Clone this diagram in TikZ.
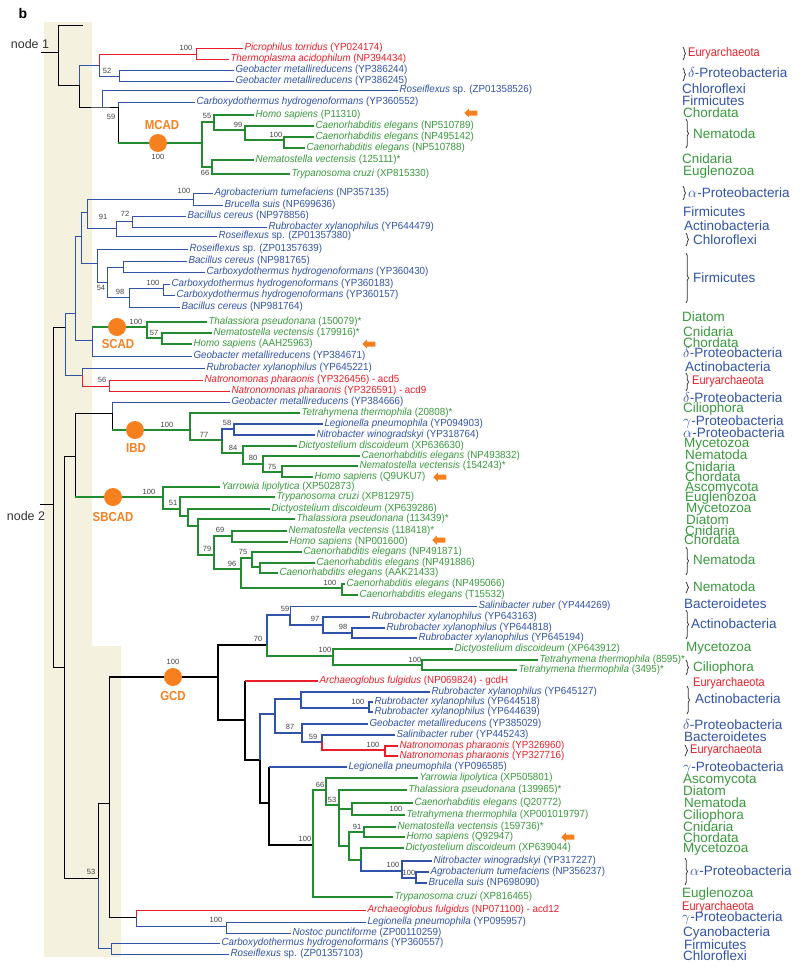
\documentclass[tikz,border=0pt]{standalone}
\usepackage{fontspec}
\setmainfont{Liberation Sans}
\newfontfamily\leaffont[FakeStretch=0.95]{Liberation Sans}
\newfontfamily\grpfont[FakeStretch=0.88]{Liberation Sans}
\usetikzlibrary{shapes.arrows, decorations.pathreplacing}

\definecolor{tblue}{RGB}{48,82,170}
\definecolor{tgreen}{RGB}{36,140,48}
\definecolor{lgreen}{RGB}{56,152,60}
\definecolor{tred}{RGB}{234,30,40}
\definecolor{torange}{RGB}{246,128,30}
\definecolor{bandbeige}{RGB}{244,242,222}

\begin{document}
\begin{tikzpicture}[x=1pt, y=-1pt,
  br/.style={line width=0.7pt},
  thk/.style={line width=1.7pt},
  lf/.style={anchor=west, inner sep=1.3pt, font=\leaffont\fontsize{10.3}{11}\selectfont},
  lfb/.style={lf, text=tblue},
  lfg/.style={lf, text=lgreen},
  lfr/.style={lf, text=tred},
  bs/.style={inner sep=0pt, text=black!75, font=\fontsize{7.5}{8}\selectfont},
  grp/.style={anchor=west, inner sep=0pt, font=\fontsize{13.5}{13.5}\selectfont},
  grpb/.style={grp, text=tblue},
  grpg/.style={grp, text=lgreen},
  arc/.style={anchor=west, inner sep=0pt, text=tred, font=\grpfont\fontsize{12.5}{13}\selectfont},
  brc/.style={decorate, decoration={brace, amplitude=2.5pt}, line width=0.8pt, black!80},
  enzdot/.style={circle, fill=torange, minimum size=18pt, inner sep=0pt},
  enz/.style={text=torange, font=\grpfont\bfseries\fontsize{13}{13}\selectfont, inner sep=0pt},
  pointer/.style={single arrow, fill=torange, shape border rotate=180, minimum height=13pt, inner sep=2.3pt, single arrow head extend=2pt},
  rootlbl/.style={text=black!80, font=\fontsize{12.5}{13}\selectfont, inner sep=0pt}
]
  \useasboundingbox (0,0) rectangle (800,969);
  % shaded band behind the roots
  \fill[bandbeige] (44,22) -- (92,22) -- (92,646) -- (121,646) -- (121,957) -- (44,957) -- cycle;

  \node[font=\bfseries\fontsize{14}{14}\selectfont, inner sep=0pt] (panel) at (23,13) {b};
  \node[rootlbl] (n1lbl) at (30,44) {node 1};
  \node[rootlbl] (n2lbl) at (26,516) {node 2};

  % ---------- node 1 clade
  \coordinate (r1s) at (41,52);
  \coordinate (r1) at (58,52);
  \coordinate (r1t) at (83,25);
  \coordinate (A0) at (79,85);
  \coordinate (A1) at (99,65);
  \coordinate (A2) at (102,107);
  \coordinate (A3) at (118,107);
  \coordinate (A4) at (196,54);
  \coordinate (A5) at (119,76);
  \coordinate (M0) at (202,143);
  \coordinate (M1) at (214,122);
  \coordinate (M2) at (245,130);
  \coordinate (M3) at (284,140);
  \coordinate (M4) at (212,167);

  \node[lfr] (picro) at (243,48) {\textit{Picrophilus torridus} (YP024174)};
  \node[lfr] (thermo) at (229,59) {\textit{Thermoplasma acidophilum} (NP394434)};
  \node[lfb] (geo1) at (234,70) {\textit{Geobacter metallireducens} (YP386244)};
  \node[lfb] (geo2) at (234,81) {\textit{Geobacter metallireducens} (YP386245)};
  \node[lfb] (rose1) at (398,90) {\textit{Roseiflexus} sp. (ZP01358526)};
  \node[lfb] (carb1) at (195,102) {\textit{Carboxydothermus hydrogenoformans} (YP360552)};
  \node[lfg] (homo1) at (254,115) {\textit{Homo sapiens} (P11310)};
  \node[lfg] (cel1) at (314,126) {\textit{Caenorhabditis elegans} (NP510789)};
  \node[lfg] (cel2) at (314,137) {\textit{Caenorhabditis elegans} (NP495142)};
  \node[lfg] (cel3) at (305,148) {\textit{Caenorhabditis elegans} (NP510788)};
  \node[lfg] (nem1) at (254,160) {\textit{Nematostella vectensis} (125111)*};
  \node[lfg] (try1) at (290,174) {\textit{Trypanosoma cruzi} (XP815330)};

  \draw[br] (r1s) -- (r1);
  \draw[br] (r1) |- (r1t);
  \draw[br] (r1) |- (A0);
  \draw[br] (A0) |- (A2) -- (A3);
  \draw[br, tblue] (A0) |- (A1);
  \draw[br, tred] (A1) |- (A4);
  \draw[br, tblue] (A1) |- (A5);
  \draw[br, tred] (A4) |- (picro.west);
  \draw[br, tred] (A4) |- (thermo.west);
  \draw[br, tblue] (A5) |- (geo1.west);
  \draw[br, tblue] (A5) |- (geo2.west);
  \draw[br, tblue] (A2) |- (rose1.west);
  \draw[br, tblue] (A3) |- (carb1.west);
  \draw[br] (A3) -- (A3 |- M0);
  \draw[thk, tgreen] (A3 |- M0) -- (M0);
  \draw[thk, tgreen] (M0) |- (M1);
  \draw[thk, tgreen] (M0) |- (M4);
  \draw[thk, tgreen] (M1) |- (homo1.west);
  \draw[thk, tgreen] (M1) |- (M2);
  \draw[thk, tgreen] (M2) |- (cel1.west);
  \draw[thk, tgreen] (M2) |- (M3);
  \draw[thk, tgreen] (M3) |- (cel2.west);
  \draw[thk, tgreen] (M3) |- (cel3.west);
  \draw[thk, tgreen] (M4) |- (nem1.west);
  \draw[thk, tgreen] (M4) |- (try1.west);

  \node[bs] (v1) at (186,48) {100};
  \node[bs] (v2) at (107,71) {52};
  \node[bs] (v3) at (111,117) {59};
  \node[bs] (v4) at (207,116) {55};
  \node[bs] (v5) at (238,125) {99};
  \node[bs] (v6) at (276,135) {100};
  \node[bs] (v7) at (205,173) {66};
  \node[bs] (v8) at (158,157) {100};

  % ---------- node 2: upper blue clades
  \coordinate (r2s) at (40,504);
  \coordinate (r2) at (53,504);
  \coordinate (B0) at (65,327);
  \coordinate (B1) at (75,313);
  \coordinate (B2) at (81,236);
  \coordinate (B3) at (87,212);
  \coordinate (B4) at (193,199);
  \coordinate (B5) at (116,228);
  \coordinate (B6) at (132,221);
  \coordinate (B7) at (97,263);
  \coordinate (B8) at (107,282);
  \coordinate (B9) at (123,267);
  \coordinate (B10) at (129,297);
  \coordinate (B11) at (163,288);
  \coordinate (C0) at (92,340);
  \coordinate (C1) at (147,327);
  \coordinate (C2) at (162,338);
  \coordinate (D0) at (82,375);
  \coordinate (D1) at (109,386);

  \node[lfb] (agro1) at (213,193) {\textit{Agrobacterium tumefaciens} (NP357135)};
  \node[lfb] (bru1) at (223,205) {\textit{Brucella suis} (NP699636)};
  \node[lfb] (bac1) at (186,216) {\textit{Bacillus cereus} (NP978856)};
  \node[lfb] (rub1) at (267,227) {\textit{Rubrobacter xylanophilus} (YP644479)};
  \node[lfb] (rose2) at (217,236) {\textit{Roseiflexus} sp. (ZP01357380)};
  \node[lfb] (rose3) at (188,249) {\textit{Roseiflexus} sp. (ZP01357639)};
  \node[lfb] (bac2) at (187,261) {\textit{Bacillus cereus} (NP981765)};
  \node[lfb] (carb2) at (205,272) {\textit{Carboxydothermus hydrogenoformans} (YP360430)};
  \node[lfb] (carb3) at (170,284) {\textit{Carboxydothermus hydrogenoformans} (YP360183)};
  \node[lfb] (carb4) at (175,295) {\textit{Carboxydothermus hydrogenoformans} (YP360157)};
  \node[lfb] (bac3) at (180,307) {\textit{Bacillus cereus} (NP981764)};
  \node[lfg] (thal1) at (207,322) {\textit{Thalassiora pseudonana} (150079)*};
  \node[lfg] (nem2) at (212,333) {\textit{Nematostella vectensis} (179916)*};
  \node[lfg] (homo2) at (192,344) {\textit{Homo sapiens} (AAH25963)};
  \node[lfb] (geo3) at (192,356) {\textit{Geobacter metallireducens} (YP384671)};
  \node[lfb] (rub2) at (205,368) {\textit{Rubrobacter xylanophilus} (YP645221)};
  \node[lfr] (nat1) at (203,380) {\textit{Natronomonas pharaonis} (YP326456) - acd5};
  \node[lfr] (nat2) at (230,391) {\textit{Natronomonas pharaonis} (YP326591) - acd9};

  \draw[br] (r2s) -- (r2);
  \draw[br] (r2) |- (B0);
  \draw[br, tblue] (B0) |- (B1);
  \draw[br, tblue] (B0) |- (D0);
  \draw[br, tblue] (B1) |- (B2);
  \draw[br, tblue] (B1) |- (C0);
  \draw[br, tblue] (B2) |- (B3);
  \draw[br, tblue] (B2) |- (B7);
  \draw[br, tblue] (B3) |- (B4);
  \draw[br, tblue] (B3) |- (B5);
  \draw[br, tblue] (B4) |- (agro1.west);
  \draw[br, tblue] (B4) |- (bru1.west);
  \draw[br, tblue] (B5) |- (B6);
  \draw[br, tblue] (B5) |- (rose2.west);
  \draw[br, tblue] (B6) |- (bac1.west);
  \draw[br, tblue] (B6) |- (rub1.west);
  \draw[br, tblue] (B7) |- (rose3.west);
  \draw[br, tblue] (B7) |- (B8);
  \draw[br, tblue] (B8) |- (B9);
  \draw[br, tblue] (B8) |- (B10);
  \draw[br, tblue] (B9) |- (bac2.west);
  \draw[br, tblue] (B9) |- (carb2.west);
  \draw[br, tblue] (B10) |- (B11);
  \draw[br, tblue] (B10) |- (bac3.west);
  \draw[br, tblue] (B11) |- (carb3.west);
  \draw[br, tblue] (B11) |- (carb4.west);
  \draw[br, tblue] (C0) -- (C0 |- C1);
  \draw[thk, tgreen] (C0 |- C1) -- (C1);
  \draw[br, tblue] (C0) |- (geo3.west);
  \draw[thk, tgreen] (C1) |- (thal1.west);
  \draw[thk, tgreen] (C1) |- (C2);
  \draw[thk, tgreen] (C2) |- (nem2.west);
  \draw[thk, tgreen] (C2) |- (homo2.west);
  \draw[br, tblue] (D0) |- (rub2.west);
  \draw[br, tred] (D0) |- (D1);
  \draw[br, tred] (D1) |- (nat1.west);
  \draw[br, tred] (D1) |- (nat2.west);

  \node[bs] (v9) at (184,191) {100};
  \node[bs] (v10) at (103,217) {91};
  \node[bs] (v11) at (125,214) {72};
  \node[bs] (v12) at (101,288) {54};
  \node[bs] (v13) at (153,283) {100};
  \node[bs] (v14) at (120,292) {98};
  \node[bs] (v15) at (136,322) {100};
  \node[bs] (v16) at (154,333) {57};
  \node[bs] (v17) at (102,380) {56};

  % ---------- IBD and SBCAD
  \coordinate (E0) at (64,667);
  \coordinate (E1) at (75,456);
  \coordinate (E5) at (98,878);
  \coordinate (F0) at (112,413);
  \coordinate (I0) at (190,430);
  \coordinate (I1) at (222,440);
  \coordinate (I2) at (234,429);
  \coordinate (I3) at (243,453);
  \coordinate (I4) at (263,464);
  \coordinate (I5) at (282,472);
  \coordinate (S0) at (163,497);
  \coordinate (S1) at (180,509);
  \coordinate (S2) at (188,516);
  \coordinate (S3) at (198,526);
  \coordinate (S4) at (214,555);
  \coordinate (S5) at (232,536);
  \coordinate (S6) at (241,569);
  \coordinate (S7) at (252,558);
  \coordinate (S8) at (260,567);
  \coordinate (S9) at (342,588);

  \node[lfb] (geo4) at (230,402) {\textit{Geobacter metallireducens} (YP384666)};
  \node[lfg] (tet1) at (300,413) {\textit{Tetrahymena thermophila} (20808)*};
  \node[lfb] (leg1) at (323,424) {\textit{Legionella pneumophila} (YP094903)};
  \node[lfb] (nit1) at (315,435) {\textit{Nitrobacter winogradskyi} (YP318764)};
  \node[lfg] (dic1) at (297,446) {\textit{Dictyostelium discoideum} (XP636630)};
  \node[lfg] (cel4) at (360,456) {\textit{Caenorhabditis elegans} (NP493832)};
  \node[lfg] (nem3) at (358,466) {\textit{Nematostella vectensis} (154243)*};
  \node[lfg] (homo3) at (313,477) {\textit{Homo sapiens} (Q9UKU7)};
  \node[lfg] (yar1) at (220,487) {\textit{Yarrowia lipolytica} (XP502873)};
  \node[lfg] (try2) at (275,497) {\textit{Trypanosoma cruzi} (XP812975)};
  \node[lfg] (dic2) at (270,509) {\textit{Dictyostelium discoideum} (XP639286)};
  \node[lfg] (thal2) at (295,519) {\textit{Thalassiora pseudonana} (113439)*};
  \node[lfg] (nem4) at (287,531) {\textit{Nematostella vectensis} (118418)*};
  \node[lfg] (homo4) at (288,542) {\textit{Homo sapiens} (NP001600)};
  \node[lfg] (cel5) at (302,552) {\textit{Caenorhabditis elegans} (NP491871)};
  \node[lfg] (cel6) at (315,563) {\textit{Caenorhabditis elegans} (NP491886)};
  \node[lfg] (cel7) at (278,573) {\textit{Caenorhabditis elegans} (AAK21433)};
  \node[lfg] (cel8) at (345,584) {\textit{Caenorhabditis elegans} (NP495066)};
  \node[lfg] (cel9) at (358,595) {\textit{Caenorhabditis elegans} (T15532)};

  \draw[br] (r2) |- (E0);
  \draw[br] (E0) |- (E1);
  \draw[br] (E0) |- (E5);
  \draw[br] (E1) |- (F0);
  \draw[br] (E1) -- (E1 |- S0);
  \draw[thk, tgreen] (E1 |- S0) -- (S0);
  \draw[br, tblue] (F0) |- (geo4.west);
  \draw[br] (F0) -- (F0 |- I0);
  \draw[thk, tgreen] (F0 |- I0) -- (I0);
  \draw[thk, tgreen] (I0) |- (tet1.west);
  \draw[thk, tgreen] (I0) |- (I1);
  \draw[thk, tblue] (I1) |- (I2);
  \draw[thk, tgreen] (I1) |- (I3);
  \draw[thk, tblue] (I2) |- (leg1.west);
  \draw[thk, tblue] (I2) |- (nit1.west);
  \draw[thk, tgreen] (I3) |- (dic1.west);
  \draw[thk, tgreen] (I3) |- (I4);
  \draw[thk, tgreen] (I4) |- (cel4.west);
  \draw[thk, tgreen] (I4) |- (I5);
  \draw[thk, tgreen] (I5) |- (nem3.west);
  \draw[thk, tgreen] (I5) |- (homo3.west);
  \draw[thk, tgreen] (S0) |- (yar1.west);
  \draw[thk, tgreen] (S0) |- (S1);
  \draw[thk, tgreen] (S1) |- (try2.west);
  \draw[thk, tgreen] (S1) |- (S2);
  \draw[thk, tgreen] (S2) |- (dic2.west);
  \draw[thk, tgreen] (S2) |- (S3);
  \draw[thk, tgreen] (S3) |- (thal2.west);
  \draw[thk, tgreen] (S3) |- (S4);
  \draw[thk, tgreen] (S4) |- (S5);
  \draw[thk, tgreen] (S4) |- (S6);
  \draw[thk, tgreen] (S5) |- (nem4.west);
  \draw[thk, tgreen] (S5) |- (homo4.west);
  \draw[thk, tgreen] (S6) |- (S7);
  \draw[thk, tgreen] (S6) |- (S9);
  \draw[thk, tgreen] (S7) |- (cel5.west);
  \draw[thk, tgreen] (S7) |- (S8);
  \draw[thk, tgreen] (S8) |- (cel6.west);
  \draw[thk, tgreen] (S8) |- (cel7.west);
  \draw[thk, tgreen] (S9) |- (cel8.west);
  \draw[thk, tgreen] (S9) |- (cel9.west);

  \node[bs] (v18) at (167,425) {100};
  \node[bs] (v19) at (227,423) {58};
  \node[bs] (v20) at (204,435) {77};
  \node[bs] (v21) at (233,448) {84};
  \node[bs] (v22) at (253,458) {80};
  \node[bs] (v23) at (272,467) {75};
  \node[bs] (v24) at (149,492) {100};
  \node[bs] (v25) at (173,503) {51};
  \node[bs] (v26) at (220,530) {69};
  \node[bs] (v27) at (207,549) {79};
  \node[bs] (v28) at (243,552) {75};
  \node[bs] (v29) at (232,564) {96};
  \node[bs] (v30) at (330,583) {100};

  % ---------- GCD and the lowest clades
  \coordinate (H0) at (109,803);
  \coordinate (H1) at (136,917);
  \coordinate (H2) at (226,926);
  \coordinate (H3) at (111,948);
  \coordinate (G1) at (218,677);
  \coordinate (G2) at (267,645);
  \coordinate (G3) at (290,615);
  \coordinate (G4) at (323,625);
  \coordinate (G5) at (352,633);
  \coordinate (G6) at (333,656);
  \coordinate (G7) at (422,665);
  \coordinate (G8) at (245,720);
  \coordinate (G9) at (260,760);
  \coordinate (K0) at (275,714);
  \coordinate (G11) at (301,699);
  \coordinate (G12) at (369,708);
  \coordinate (G13) at (302,733);
  \coordinate (K1) at (322,742);
  \coordinate (G14) at (385,750);
  \coordinate (G10) at (269,803);
  \coordinate (G15) at (313,845);
  \coordinate (G16) at (326,790);
  \coordinate (G17) at (339,805);
  \coordinate (G18) at (352,809);
  \coordinate (G19) at (349,846);
  \coordinate (K2) at (364,832);
  \coordinate (G20) at (361,860);
  \coordinate (G21) at (402,871);
  \coordinate (G22) at (416,878);

  \node[lfb] (sal1) at (477,606) {\textit{Salinibacter ruber} (YP444269)};
  \node[lfb] (rub3) at (370,617) {\textit{Rubrobacter xylanophilus} (YP643163)};
  \node[lfb] (rub4) at (385,628) {\textit{Rubrobacter xylanophilus} (YP644818)};
  \node[lfb] (rub5) at (417,638) {\textit{Rubrobacter xylanophilus} (YP645194)};
  \node[lfg] (dic3) at (453,649) {\textit{Dictyostelium discoideum} (XP643912)};
  \node[lfg] (tet2) at (538,660) {\textit{Tetrahymena thermophila} (8595)*};
  \node[lfg] (tet3) at (517,670) {\textit{Tetrahymena thermophila} (3495)*};
  \node[lfr] (arch1) at (318,681) {\textit{Archaeoglobus fulgidus} (NP069824) - gcdH};
  \node[lfb] (rub6) at (430,692) {\textit{Rubrobacter xylanophilus} (YP645127)};
  \node[lfb] (rub7) at (373,702) {\textit{Rubrobacter xylanophilus} (YP644518)};
  \node[lfb] (rub8) at (373,712) {\textit{Rubrobacter xylanophilus} (YP644639)};
  \node[lfb] (geo5) at (368,724) {\textit{Geobacter metallireducens} (YP385029)};
  \node[lfb] (sal2) at (395,735) {\textit{Salinibacter ruber} (YP445243)};
  \node[lfr] (nat3) at (398,746) {\textit{Natronomonas pharaonis} (YP326960)};
  \node[lfr] (nat4) at (398,756) {\textit{Natronomonas pharaonis} (YP327716)};
  \node[lfb] (leg2) at (347,767) {\textit{Legionella pneumophila} (YP096585)};
  \node[lfg] (yar2) at (418,778) {\textit{Yarrowia lipolytica} (XP505801)};
  \node[lfg] (thal3) at (407,790) {\textit{Thalassiora pseudonana} (139965)*};
  \node[lfg] (cel10) at (413,803) {\textit{Caenorhabditis elegans} (Q20772)};
  \node[lfg] (tet4) at (405,815) {\textit{Tetrahymena thermophila} (XP001019797)};
  \node[lfg] (nem5) at (396,827) {\textit{Nematostella vectensis} (159736)*};
  \node[lfg] (homo5) at (405,837) {\textit{Homo sapiens} (Q92947)};
  \node[lfg] (dic4) at (404,848) {\textit{Dictyostelium discoideum} (XP639044)};
  \node[lfb] (nit2) at (432,861) {\textit{Nitrobacter winogradskyi} (YP317227)};
  \node[lfb] (agro2) at (429,872) {\textit{Agrobacterium tumefaciens} (NP356237)};
  \node[lfb] (bru2) at (427,883) {\textit{Brucella suis} (NP698090)};
  \node[lfg] (try3) at (393,897) {\textit{Trypanosoma cruzi} (XP816465)};
  \node[lfr] (arch2) at (366,910) {\textit{Archaeoglobus fulgidus} (NP071100) - acd12};
  \node[lfb] (leg3) at (366,922) {\textit{Legionella pneumophila} (YP095957)};
  \node[lfb] (nos1) at (291,933) {\textit{Nostoc punctiforme} (ZP00110259)};
  \node[lfb] (carb5) at (220,943) {\textit{Carboxydothermus hydrogenoformans} (YP360557)};
  \node[lfb] (rose4) at (229,954) {\textit{Roseiflexus} sp. (ZP01357103)};

  \draw[br] (E5) |- (H0);
  \draw[br, tblue] (E5) |- (H3);
  \draw[br] (H0) -- (H0 |- G1);
  \draw[thk] (H0 |- G1) -- (G1);
  \draw[br] (H0) |- (H1);
  \draw[br, tred] (H1) |- (arch2.west);
  \draw[br, tblue] (H1) |- (H2);
  \draw[br, tblue] (H2) |- (leg3.west);
  \draw[br, tblue] (H2) |- (nos1.west);
  \draw[br, tblue] (H3) |- (carb5.west);
  \draw[br, tblue] (H3) |- (rose4.west);

  \draw[thk] (G1) |- (G2);
  \draw[thk] (G1) |- (G8);
  \draw[thk, tblue] (G2) |- (G3);
  \draw[thk, tgreen] (G2) |- (G6);
  \draw[br, tblue] (G3) |- (sal1.west);
  \draw[thk, tblue] (G3) |- (G4);
  \draw[thk, tblue] (G4) |- (rub3.west);
  \draw[thk, tblue] (G4) |- (G5);
  \draw[thk, tblue] (G5) |- (rub4.west);
  \draw[thk, tblue] (G5) |- (rub5.west);
  \draw[thk, tgreen] (G6) |- (dic3.west);
  \draw[thk, tgreen] (G6) |- (G7);
  \draw[thk, tgreen] (G7) |- (tet2.west);
  \draw[thk, tgreen] (G7) |- (tet3.west);
  \draw[thk] (G8) -- (G8 |- arch1.west);
  \draw[thk, tred] (G8 |- arch1.west) -- (arch1.west);
  \draw[thk] (G8) |- (G9);
  \draw[thk, tblue] (G9) |- (K0);
  \draw[thk] (G9) |- (G10);
  \draw[thk, tblue] (K0) |- (G11);
  \draw[thk, tblue] (K0) |- (G13);
  \draw[thk, tblue] (G11) |- (rub6.west);
  \draw[thk, tblue] (G11) |- (G12);
  \draw[thk, tblue] (G12) |- (rub7.west);
  \draw[thk, tblue] (G12) |- (rub8.west);
  \draw[thk, tblue] (G13) |- (geo5.west);
  \draw[thk, tblue] (G13) |- (K1);
  \draw[thk, tblue] (K1) |- (sal2.west);
  \draw[thk, tred] (K1) |- (G14);
  \draw[thk, tred] (G14) |- (nat3.west);
  \draw[thk, tred] (G14) |- (nat4.west);
  \draw[thk] (G10) -- (G10 |- leg2.west);
  \draw[thk, tblue] (G10 |- leg2.west) -- (leg2.west);
  \draw[thk] (G10) |- (G15);
  \draw[thk, tgreen] (G15) |- (G16);
  \draw[thk, tgreen] (G15) |- (try3.west);
  \draw[thk, tgreen] (G16) |- (yar2.west);
  \draw[thk, tgreen] (G16) |- (G17);
  \draw[thk, tgreen] (G17) |- (thal3.west);
  \draw[thk, tgreen] (G17) |- (G18);
  \draw[thk, tgreen] (G17) |- (G19);
  \draw[thk, tgreen] (G18) |- (cel10.west);
  \draw[thk, tgreen] (G18) |- (tet4.west);
  \draw[thk, tgreen] (G19) |- (K2);
  \draw[thk, tgreen] (G19) |- (G20);
  \draw[thk, tgreen] (K2) |- (nem5.west);
  \draw[thk, tgreen] (K2) |- (homo5.west);
  \draw[thk, tgreen] (G20) |- (dic4.west);
  \draw[thk, tblue] (G20) |- (G21);
  \draw[thk, tblue] (G21) |- (nit2.west);
  \draw[thk, tblue] (G21) |- (G22);
  \draw[thk, tblue] (G22) |- (agro2.west);
  \draw[thk, tblue] (G22) |- (bru2.west);

  \node[bs] (v31) at (173,662) {100};
  \node[bs] (v32) at (258,639) {70};
  \node[bs] (v33) at (285,609) {59};
  \node[bs] (v34) at (315,619) {97};
  \node[bs] (v35) at (343,627) {98};
  \node[bs] (v36) at (325,650) {100};
  \node[bs] (v37) at (415,660) {100};
  \node[bs] (v38) at (358,702) {100};
  \node[bs] (v39) at (290,727) {87};
  \node[bs] (v40) at (313,737) {59};
  \node[bs] (v41) at (373,745) {100};
  \node[bs] (v42) at (320,785) {66};
  \node[bs] (v43) at (332,800) {53};
  \node[bs] (v44) at (396,809) {100};
  \node[bs] (v45) at (357,827) {91};
  \node[bs] (v46) at (305,839) {100};
  \node[bs] (v47) at (393,865) {100};
  \node[bs] (v48) at (409,873) {100};
  \node[bs] (v49) at (91,872) {53};
  \node[bs] (v50) at (216,920) {100};

  % enzyme markers
  \node[enzdot] (mcad) at (158,143) {};
  \node[enz] (mcadl) at (162,125) {MCAD};
  \node[enzdot] (scad) at (117,327) {};
  \node[enz] (scadl) at (118,344) {SCAD};
  \node[enzdot] (ibd) at (135,430) {};
  \node[enz] (ibdl) at (136,448) {IBD};
  \node[enzdot] (sbcad) at (113,497) {};
  \node[enz] (sbcadl) at (113,517) {SBCAD};
  \node[enzdot] (gcd) at (173,677) {};
  \node[enz] (gcdl) at (173,696) {GCD};

  % human sequences
  \node[pointer] (p1) at (472,113) {};
  \node[pointer] (p2) at (370,344) {};
  \node[pointer] (p3) at (441,477) {};
  \node[pointer] (p4) at (440,540) {};
  \node[pointer] (p5) at (569,837) {};

  % ---------- taxon column
  \node[arc] (g1) at (688,53) {Euryarchaeota};
  \draw[brc] (683,47) -- (683,60);
  \node[grpb] (g2) at (688,73) {$\delta$-Proteobacteria};
  \draw[brc] (683,68) -- (683,81);
  \node[grpb] (g3) at (682,89) {Chloroflexi};
  \node[grpb] (g4) at (682,101) {Firmicutes};
  \node[grpg] (g5) at (683,113) {Chordata};
  \node[grpg] (g6) at (693,134) {Nematoda};
  \draw[brc] (686,119) -- (686,148);
  \node[grpg] (g7) at (682,159) {Cnidaria};
  \node[grpg] (g8) at (683,172) {Euglenozoa};
  \node[grpb] (g9) at (688,193) {$\alpha$-Proteobacteria};
  \draw[brc] (683,186) -- (683,200);
  \node[grpb] (g10) at (683,212) {Firmicutes};
  \node[grpb] (g11) at (684,226) {Actinobacteria};
  \node[grpb] (g12) at (693,240) {Chloroflexi};
  \draw[brc] (686,233) -- (686,246);
  \node[grpb] (g13) at (693,278) {Firmicutes};
  \draw[brc] (686,253) -- (686,303);
  \node[grpg] (g14) at (682,317) {Diatom};
  \node[grpg] (g15) at (683,332) {Cnidaria};
  \node[grpg] (g16) at (683,343) {Chordata};
  \node[grpb] (g17) at (683,353) {$\delta$-Proteobacteria};
  \node[grpb] (g18) at (685,367) {Actinobacteria};
  \node[arc] (g19) at (692,381) {Euryarchaeota};
  \draw[brc] (686,373) -- (686,391);
  \node[grpb] (g20) at (683,398) {$\delta$-Proteobacteria};
  \node[grpg] (g21) at (683,409) {Ciliophora};
  \node[grpb] (g22) at (683,422) {$\gamma$-Proteobacteria};
  \node[grpb] (g23) at (683,433) {$\alpha$-Proteobacteria};
  \node[grpg] (g24) at (684,444) {Mycetozoa};
  \node[grpg] (g25) at (685,455) {Nematoda};
  \node[grpg] (g26) at (685,467) {Cnidaria};
  \node[grpg] (g27) at (685,477) {Chordata};
  \node[grpg] (g28) at (685,488) {Ascomycota};
  \node[grpg] (g29) at (685,498) {Euglenozoa};
  \node[grpg] (g30) at (686,509) {Mycetozoa};
  \node[grpg] (g31) at (686,520) {Diatom};
  \node[grpg] (g32) at (685,531) {Cnidaria};
  \node[grpg] (g33) at (684,540) {Chordata};
  \node[grpg] (g34) at (693,560) {Nematoda};
  \draw[brc] (686,547) -- (686,575);
  \node[grpg] (g35) at (693,587) {Nematoda};
  \draw[brc] (686,582) -- (686,593);
  \node[grpb] (g36) at (684,604) {Bacteroidetes};
  \node[grpb] (g37) at (691,624) {Actinobacteria};
  \draw[brc] (686,610) -- (686,639);
  \node[grpg] (g38) at (686,648) {Mycetozoa};
  \node[grpg] (g39) at (693,668) {Ciliophora};
  \draw[brc] (686,660) -- (686,675);
  \node[arc] (g40) at (693,683) {Euryarchaeota};
  \node[grpb] (g41) at (695,699) {Actinobacteria};
  \draw[brc] (687,686) -- (687,714);
  \node[grpb] (g42) at (683,725) {$\delta$-Proteobacteria};
  \node[grpb] (g43) at (684,737) {Bacteroidetes};
  \node[arc] (g44) at (690,750) {Euryarchaeota};
  \draw[brc] (685,745) -- (685,756);
  \node[grpb] (g45) at (683,768) {$\gamma$-Proteobacteria};
  \node[grpg] (g46) at (683,780) {Ascomycota};
  \node[grpg] (g47) at (683,791) {Diatom};
  \node[grpg] (g48) at (684,803) {Nematoda};
  \node[grpg] (g49) at (683,816) {Ciliophora};
  \node[grpg] (g50) at (683,827) {Cnidaria};
  \node[grpg] (g51) at (683,838) {Chordata};
  \node[grpg] (g52) at (683,849) {Mycetozoa};
  \node[grpb] (g53) at (690,871) {$\alpha$-Proteobacteria};
  \draw[brc] (685,858) -- (685,885);
  \node[grpg] (g54) at (682,894) {Euglenozoa};
  \node[arc] (g55) at (682,907) {Euryarchaeota};
  \node[grpb] (g56) at (682,918) {$\gamma$-Proteobacteria};
  \node[grpb] (g57) at (683,933) {Cyanobacteria};
  \node[grpb] (g58) at (684,945) {Firmicutes};
  \node[grpb] (g59) at (683,956) {Chloroflexi};
\end{tikzpicture}
\end{document}
